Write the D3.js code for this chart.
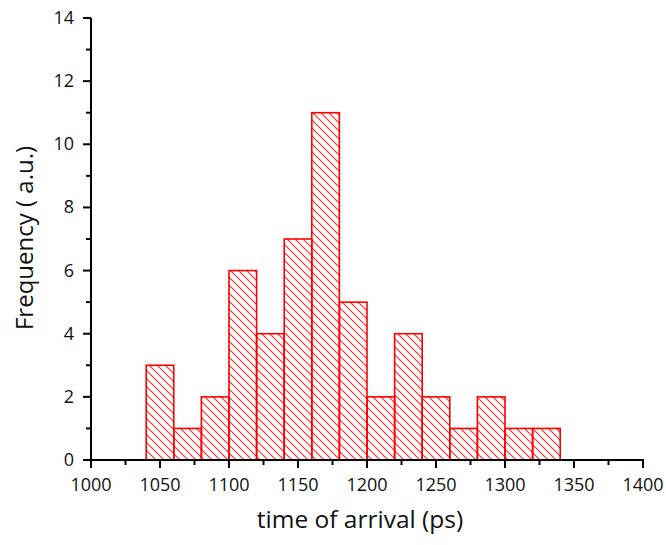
<!DOCTYPE html>
<html><head><meta charset="utf-8">
<script src="https://cdn.jsdelivr.net/npm/d3@7"></script>
<style>body{margin:0;background:#fff}svg{display:block}text{font-family:"Open Sans","Noto Sans",sans-serif;fill:#111}</style>
</head><body><svg id="c" width="666" height="545"></svg>
<script>
const binStarts = [1040,1060,1080,1100,1120,1140,1160,1180,1200,1220,1240,1260,1280,1300,1320];
const binWidth = 20;
const counts = [3,1,2,6,4,7,11,5,2,4,2,1,2,1,1];
const xTicks = [1000,1050,1100,1150,1200,1250,1300,1350,1400];
const yTicks = [0,2,4,6,8,10,12,14];

const svg = d3.select("#c");
const x = d3.scaleLinear().domain([1000,1400]).range([91,643]);
const y = d3.scaleLinear().domain([0,14]).range([460,18]);

const defs = svg.append("defs");
const pat = defs.append("pattern").attr("id","hatch").attr("patternUnits","userSpaceOnUse")
  .attr("width",8).attr("height",8);
pat.append("path").attr("d","M-1,-1 L9,9 M-5,3 L3,11 M5,-3 L11,3")
  .attr("stroke","#ff2a2a").attr("stroke-width",1.1).attr("fill","none");

svg.append("g").selectAll("rect").data(counts).join("rect")
  .attr("x",(d,i)=>x(binStarts[i]))
  .attr("width",(d,i)=>x(binStarts[i]+binWidth)-x(binStarts[i]))
  .attr("y",d=>y(d))
  .attr("height",d=>y(0)-y(d))
  .attr("fill","url(#hatch)")
  .attr("stroke","#ff0000").attr("stroke-width",1.6);

// x axis
const xa = svg.append("g").attr("transform","translate(0,460)");
xa.append("line").attr("x1",x(1000)-1).attr("x2",x(1400)+1).attr("stroke","#000").attr("stroke-width",2);
xa.selectAll("line.t").data(d3.range(1000,1401,25)).join("line").attr("class","t")
  .attr("x1",d=>x(d)).attr("x2",d=>x(d)).attr("y1",0).attr("y2",d=>d%50===0?8:5)
  .attr("stroke","#000").attr("stroke-width",2);
xa.selectAll("text.l").data(xTicks).join("text").attr("class","l")
  .attr("x",d=>x(d)).attr("y",31).attr("text-anchor","middle").attr("font-size",18).text(d=>d);

// y axis
const ya = svg.append("g").attr("transform","translate(91,0)");
ya.append("line").attr("y1",y(0)+1).attr("y2",y(14)).attr("stroke","#000").attr("stroke-width",2);
ya.selectAll("line.t").data(d3.range(0,14.01,1)).join("line").attr("class","t")
  .attr("y1",d=>y(d)).attr("y2",d=>y(d)).attr("x1",0).attr("x2",d=>d%2===0?-8:-5)
  .attr("stroke","#000").attr("stroke-width",2);
ya.selectAll("text.l").data(yTicks).join("text").attr("class","l")
  .attr("x",-17).attr("y",d=>y(d)+6).attr("text-anchor","end").attr("font-size",18).text(d=>d);

svg.append("text").attr("x",360).attr("y",528).attr("text-anchor","middle")
  .attr("font-size",24.5).text("time of arrival (ps)");
svg.append("text").attr("transform","translate(33,"+(y(7)-1)+") rotate(-90)").attr("text-anchor","middle")
  .attr("font-size",24).text("Frequency ( a.u.)");
</script></body></html>
